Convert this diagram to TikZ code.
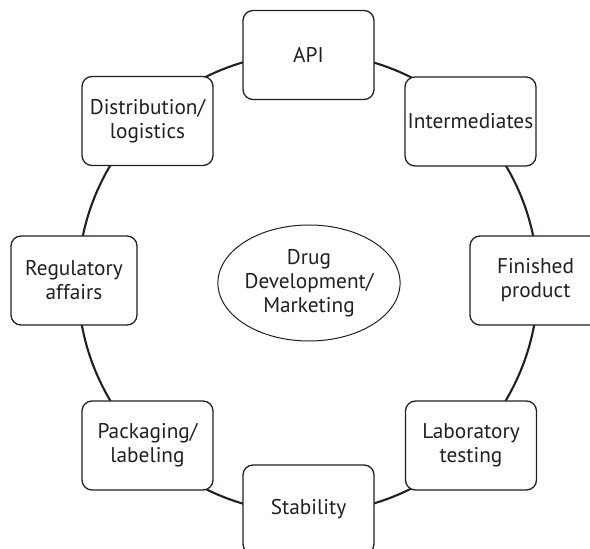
\documentclass[tikz,border=0pt]{standalone}
\usepackage{fontspec}
\setmainfont{PT Sans}
\usetikzlibrary{shapes.geometric}
\definecolor{ink}{HTML}{231F20}
\begin{document}
\begin{tikzpicture}[x=1pt,y=1pt,
  stage/.style={draw=ink, fill=white, line width=1.3pt, rounded corners=10pt,
    minimum width=131pt, minimum height=89pt, inner sep=0pt, align=center,
    text=ink, font=\fontsize{21.3}{24}\selectfont},
  hub/.style={draw=ink, ellipse, line width=1pt, minimum width=174pt,
    minimum height=116pt, inner sep=0pt, align=center, text=ink,
    font=\fontsize{21.3}{24}\selectfont},
  ring/.style={draw=ink, line width=2.1pt}]
\clip (0,0) rectangle (590,549);
\fill[white] (0,0) rectangle (590,549);
% cycle ring behind the stages
\coordinate (c) at (308,266);
\draw[ring] (c) circle[radius=230];
% centre
\node[hub] (core) at (309,266) {Drug\\Development/\\Marketing};
% stages around the ring
\node[stage] (api) at (308.5,494) {API};
\node[stage] (inter) at (470.5,427.5) {Intermediates};
\node[stage] (fin) at (535.5,268.5) {Finished\\product};
\node[stage] (lab) at (471,103.5) {Laboratory\\testing};
\node[stage] (stab) at (308.5,39.5) {Stability};
\node[stage] (pack) at (147.5,103.5) {Packaging/\\labeling};
\node[stage, minimum width=126pt] (reg) at (74,268.5) {Regulatory\\affairs};
\node[stage] (dist) at (147.5,428) {Distribution/\\logistics};
\end{tikzpicture}
\end{document}
